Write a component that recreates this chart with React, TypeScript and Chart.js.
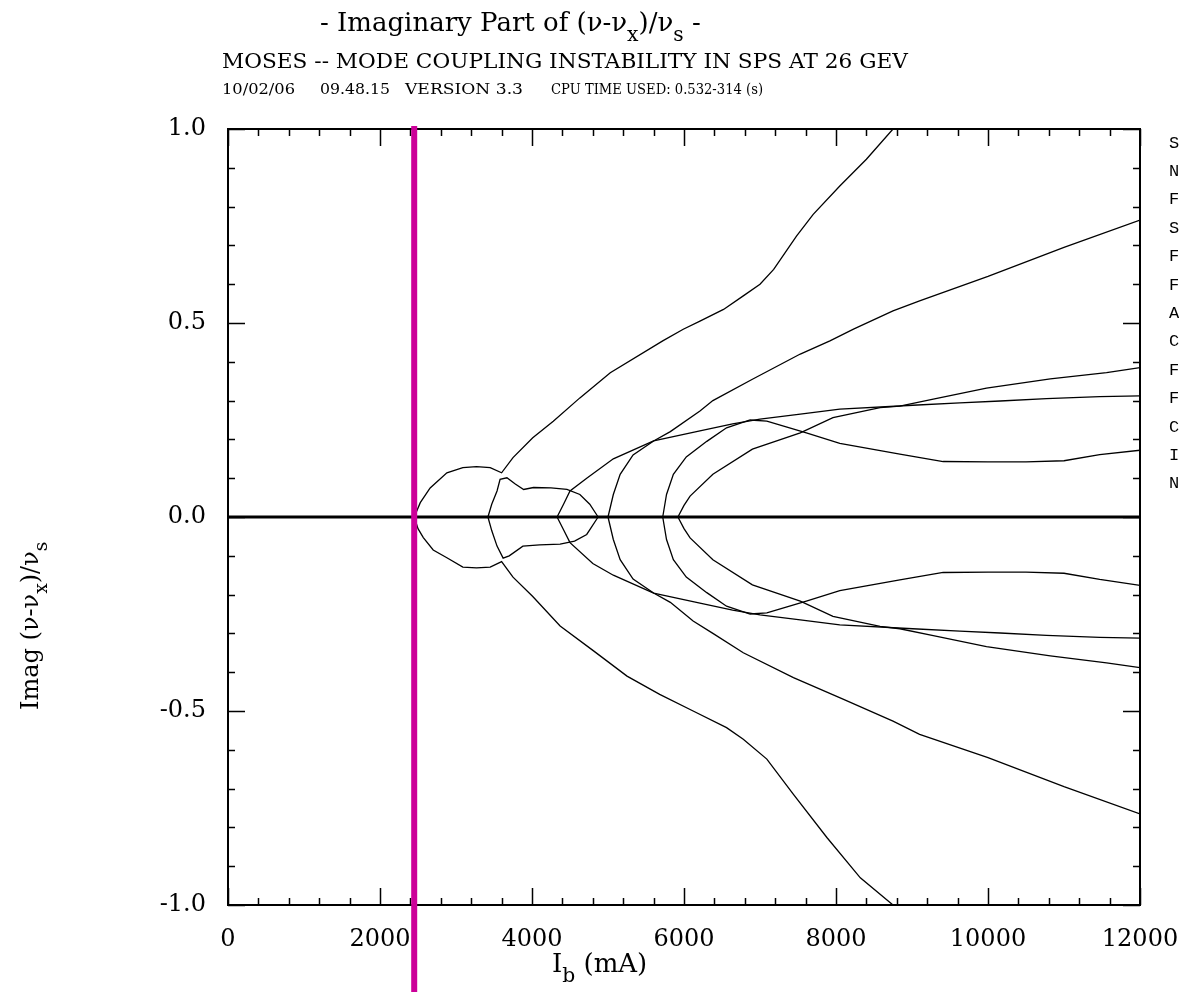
import React, { useEffect, useRef } from 'react';
import { Chart, registerables } from 'chart.js';

Chart.register(...registerables);

// ---- axis ticks ----
const xTickValues = [0, 2000, 4000, 6000, 8000, 10000, 12000];
const yTickValues = [-1.0, -0.5, 0.0, 0.5, 1.0];
const markerCurrent = 2450; // magenta threshold line (mA)

// ---- zero line ----
const zeroX = [0, 12000];
const zeroY = [0, 0];

// ---- upper branches (Imag > 0) ----
const branchAUpX = [2450, 2530, 2660, 2880, 3090, 3270, 3450, 3600, 3750, 4010, 4280, 4630, 5030, 5720, 5990, 6210, 6520, 6780, 7000, 7180, 7480, 7700, 8050, 8400, 8750];
const branchAUpY = [0, 0.037, 0.075, 0.114, 0.127, 0.13, 0.127, 0.114, 0.153, 0.204, 0.247, 0.307, 0.372, 0.454, 0.484, 0.505, 0.535, 0.57, 0.6, 0.638, 0.724, 0.78, 0.853, 0.922, 1.0];

const neckUpX = [3420, 3470, 3540, 3580, 3670, 3780, 3890, 4020, 4250, 4460, 4630, 4760, 4870];
const neckUpY = [0, 0.033, 0.067, 0.097, 0.101, 0.085, 0.071, 0.076, 0.075, 0.071, 0.058, 0.033, 0];

const branchBUpX = [4330, 4420, 4500, 4720, 5070, 5600, 6210, 6640, 7000, 7530, 8050, 9010, 9630, 10160, 10770, 11470, 12000];
const branchBUpY = [0, 0.035, 0.067, 0.1, 0.15, 0.196, 0.222, 0.24, 0.252, 0.265, 0.278, 0.288, 0.294, 0.299, 0.305, 0.31, 0.312];

const branchDUpX = [5000, 5070, 5160, 5330, 5600, 5820, 6210, 6380, 6900, 7530, 7920, 8230, 8750, 9100, 10000, 11000, 12000];
const branchDUpY = [0, 0.058, 0.11, 0.16, 0.196, 0.22, 0.273, 0.3, 0.355, 0.42, 0.454, 0.484, 0.531, 0.557, 0.62, 0.695, 0.765];

const branchEUpX = [5720, 5770, 5860, 6030, 6300, 6560, 6870, 7090, 7300, 7610, 8050, 8840, 9410, 10000, 10500, 11000, 11470, 12000];
const branchEUpY = [0, 0.058, 0.11, 0.155, 0.195, 0.23, 0.25, 0.247, 0.235, 0.217, 0.19, 0.162, 0.143, 0.142, 0.142, 0.145, 0.161, 0.172];

const branchCUpX = [5920, 6000, 6080, 6380, 6900, 7530, 7960, 8580, 8840, 9280, 9980, 10820, 11560, 12000];
const branchCUpY = [0, 0.03, 0.054, 0.11, 0.175, 0.217, 0.256, 0.282, 0.286, 0.304, 0.332, 0.356, 0.372, 0.385];

// ---- lower branches (Imag < 0) ----
const branchALowX = [2450, 2500, 2570, 2700, 2880, 3090, 3270, 3450, 3600, 3750, 4010, 4370, 4810, 5250, 5680, 6120, 6560, 6780, 7090, 7440, 7880, 8320, 8750];
const branchALowY = [0, -0.03, -0.053, -0.085, -0.105, -0.129, -0.131, -0.129, -0.115, -0.155, -0.205, -0.281, -0.345, -0.41, -0.457, -0.5, -0.543, -0.573, -0.624, -0.715, -0.826, -0.93, -1.0];

const neckLowX = [3420, 3470, 3540, 3620, 3700, 3880, 4100, 4370, 4560, 4720, 4870];
const neckLowY = [0, -0.035, -0.075, -0.106, -0.1, -0.075, -0.072, -0.07, -0.062, -0.045, 0];

const branchBLowX = [4330, 4420, 4500, 4800, 5070, 5600, 6210, 6640, 7000, 7530, 8050, 9010, 9630, 10160, 10770, 11470, 12000];
const branchBLowY = [0, -0.035, -0.066, -0.12, -0.15, -0.196, -0.222, -0.24, -0.252, -0.265, -0.278, -0.288, -0.294, -0.299, -0.305, -0.31, -0.312];

const branchDLowX = [5000, 5070, 5160, 5330, 5600, 5820, 6120, 6380, 6780, 7440, 8100, 8750, 9100, 10000, 11000, 12000];
const branchDLowY = [0, -0.058, -0.11, -0.16, -0.196, -0.22, -0.268, -0.3, -0.35, -0.414, -0.47, -0.526, -0.56, -0.62, -0.695, -0.765];

const branchELowX = [5720, 5770, 5860, 6030, 6300, 6560, 6870, 7090, 7300, 7610, 8050, 8840, 9410, 10000, 10500, 11000, 11470, 12000];
const branchELowY = [0, -0.058, -0.11, -0.155, -0.195, -0.23, -0.25, -0.247, -0.235, -0.217, -0.19, -0.162, -0.143, -0.142, -0.142, -0.145, -0.161, -0.176];

const branchCLowX = [5920, 6000, 6080, 6380, 6900, 7530, 7960, 8580, 8840, 9280, 9980, 10820, 11560, 12000];
const branchCLowY = [0, -0.03, -0.054, -0.11, -0.175, -0.217, -0.256, -0.282, -0.288, -0.306, -0.334, -0.358, -0.376, -0.388];

// ---- right-margin parameter labels (cut by the page edge) ----
const sideLabels = ['SIGZ', 'NB', 'FREQ', 'SIGE', 'FRES', 'FX', 'ALPHA', 'CHROM', 'FR', 'FS', 'CQ', 'IB', 'NMOD'];

const curveSets: [number[], number[]][] = [
  [branchAUpX, branchAUpY], [neckUpX, neckUpY], [branchBUpX, branchBUpY],
  [branchDUpX, branchDUpY], [branchEUpX, branchEUpY], [branchCUpX, branchCUpY],
  [branchALowX, branchALowY], [neckLowX, neckLowY], [branchBLowX, branchBLowY],
  [branchDLowX, branchDLowY], [branchELowX, branchELowY], [branchCLowX, branchCLowY],
];

const SERIF = "'DejaVu Serif', 'Liberation Serif', serif";

type Part = { t: string; sub?: boolean };

function drawRich(ctx: CanvasRenderingContext2D, parts: Part[], x: number, y: number, size: number) {
  let cx = x;
  for (const p of parts) {
    const s = p.sub ? size * 0.78 : size;
    ctx.font = `${s}px ${SERIF}`;
    ctx.fillText(p.t, cx, p.sub ? y + size * 0.38 : y);
    cx += ctx.measureText(p.t).width;
  }
}

function drawFitted(ctx: CanvasRenderingContext2D, text: string, x: number, y: number, size: number, width: number) {
  ctx.font = `${size}px ${SERIF}`;
  const w = ctx.measureText(text).width;
  ctx.save();
  ctx.translate(x, y);
  ctx.scale(width / w, 1);
  ctx.fillText(text, 0, 0);
  ctx.restore();
}

const decorPlugin = {
  id: 'decor',
  afterDraw(chart: any) {
    const { ctx, chartArea } = chart;
    const { left, right, top, bottom } = chartArea;
    const xs = chart.scales.x;
    const ys = chart.scales.y;
    ctx.save();
    ctx.strokeStyle = '#000';
    ctx.fillStyle = '#000';
    ctx.lineWidth = 2;
    ctx.strokeRect(left, top, right - left, bottom - top);
    ctx.lineWidth = 1.5;
    ctx.beginPath();
    for (let v = 0; v <= 12000; v += 400) {
      const px = Math.round(xs.getPixelForValue(v)) + 0.5;
      const len = v % 2000 === 0 ? 17 : 7;
      ctx.moveTo(px, bottom); ctx.lineTo(px, bottom - len);
      ctx.moveTo(px, top); ctx.lineTo(px, top + len);
    }
    for (let i = -10; i <= 10; i++) {
      const py = Math.round(ys.getPixelForValue(i / 10)) + 0.5;
      const len = i % 5 === 0 ? 17 : 7;
      ctx.moveTo(left, py); ctx.lineTo(left + len, py);
      ctx.moveTo(right, py); ctx.lineTo(right - len, py);
    }
    ctx.stroke();

    // magenta marker
    const mx = xs.getPixelForValue(markerCurrent);
    ctx.strokeStyle = '#cc0099';
    ctx.lineWidth = 6;
    ctx.beginPath();
    ctx.moveTo(mx, top - 3);
    ctx.lineTo(mx, chart.height);
    ctx.stroke();

    // titles
    ctx.fillStyle = '#000';
    ctx.textBaseline = 'alphabetic';
    ctx.textAlign = 'left';
    drawRich(ctx, [
      { t: '- Imaginary Part of (\u03bd-\u03bd' }, { t: 'x', sub: true },
      { t: ')/\u03bd' }, { t: 's', sub: true }, { t: ' -' },
    ], 320, 31, 26);
    drawFitted(ctx, 'MOSES -- MODE COUPLING INSTABILITY IN SPS AT 26 GEV', 222, 68, 21, 686);
    drawFitted(ctx, '10/02/06', 222, 94, 15, 73);
    drawFitted(ctx, '09.48.15', 320, 94, 15, 70);
    drawFitted(ctx, 'VERSION 3.3', 405, 94, 15, 118);
    drawFitted(ctx, 'CPU TIME USED: 0.532-314 (s)', 551, 94, 15, 212);

    // x-axis title
    drawRich(ctx, [{ t: 'I' }, { t: 'b', sub: true }, { t: ' (mA)' }], 552, 972, 26);

    // y-axis title
    ctx.save();
    ctx.translate(38, 710);
    ctx.rotate(-Math.PI / 2);
    drawRich(ctx, [
      { t: 'Imag (\u03bd-\u03bd' }, { t: 'x', sub: true },
      { t: ')/\u03bd' }, { t: 's', sub: true },
    ], 0, 0, 24);
    ctx.restore();

    // right margin labels
    ctx.font = "17px 'Liberation Mono', 'DejaVu Sans Mono', monospace";
    ctx.textBaseline = 'middle';
    sideLabels.forEach((s, i) => {
      ctx.fillText(s, 1169, 143 + i * 28.4);
    });
    ctx.restore();
  },
};

export default function App() {
  const ref = useRef<HTMLCanvasElement | null>(null);
  useEffect(() => {
    document.body.style.margin = '0';
    const canvas = ref.current!;
    const datasets: any[] = curveSets.map(([xs, ys]) => ({
      data: xs.map((x, i) => ({ x, y: ys[i] })),
      showLine: true,
      pointRadius: 0,
      borderColor: '#000',
      borderWidth: 1.3,
      tension: 0,
      fill: false,
    }));
    datasets.push({
      data: zeroX.map((x, i) => ({ x, y: zeroY[i] })),
      showLine: true,
      pointRadius: 0,
      borderColor: '#000',
      borderWidth: 3,
      tension: 0,
      fill: false,
    });
    const chart = new Chart(canvas, {
      type: 'scatter',
      data: { datasets },
      options: {
        responsive: false,
        animation: false,
        devicePixelRatio: 1,
        layout: { padding: { top: 129, right: 39, left: 0, bottom: 0 } },
        plugins: { legend: { display: false }, tooltip: { enabled: false }, title: { display: false } },
        scales: {
          x: {
            type: 'linear',
            min: 0,
            max: 12000,
            grid: { display: false, drawTicks: false },
            border: { display: false },
            afterBuildTicks: (s: any) => { s.ticks = xTickValues.map((v) => ({ value: v })); },
            afterFit: (s: any) => { s.height = 87; s.paddingLeft = 0; s.paddingRight = 0; },
            ticks: {
              color: '#000',
              padding: 20,
              maxRotation: 0,
              autoSkip: false,
              font: { family: SERIF, size: 24 },
              callback: (v: any) => String(v),
            },
          },
          y: {
            type: 'linear',
            min: -1,
            max: 1,
            grid: { display: false, drawTicks: false },
            border: { display: false },
            afterBuildTicks: (s: any) => { s.ticks = yTickValues.map((v) => ({ value: v })); },
            afterFit: (s: any) => { s.width = 228; s.paddingTop = 0; s.paddingBottom = 0; },
            ticks: {
              color: '#000',
              padding: 22,
              autoSkip: false,
              font: { family: SERIF, size: 24 },
              callback: (v: any) => Number(v).toFixed(1),
            },
          },
        },
      },
      plugins: [decorPlugin],
    });
    return () => chart.destroy();
  }, []);
  return (
    <div style={{ width: 1179, height: 992, background: '#fff' }}>
      <canvas ref={ref} width={1179} height={992} style={{ display: 'block' }} />
    </div>
  );
}
